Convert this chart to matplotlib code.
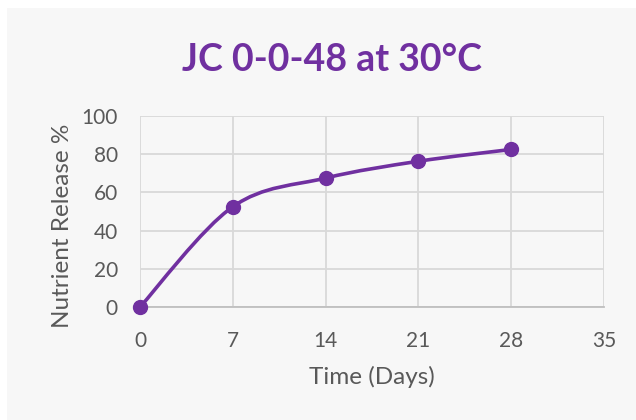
# Nutrient release curve, JC 0-0-48 at 30C
import matplotlib
matplotlib.use('Agg')
import matplotlib.pyplot as plt
from matplotlib.path import Path
from matplotlib.patches import PathPatch, Rectangle

days = [0, 7, 14, 21, 28]
release = [0, 52.5, 67.5, 76.3, 82.5]
x_ticks = [0, 7, 14, 21, 28, 35]
y_ticks = [0, 20, 40, 60, 80, 100]

purple = '#7030A0'
bg = '#f7f7f7'
txt = '#595959'

plt.rcParams['font.family'] = ['Lato', 'DejaVu Sans']

fig = plt.figure(figsize=(6.36, 4.2), dpi=100)
fig.patch.set_facecolor('white')
fig.add_artist(Rectangle((7 / 636, 0), 1, 1 - 8 / 420, transform=fig.transFigure,
                         facecolor=bg, edgecolor='none', zorder=0))

ax = fig.add_axes([140 / 636, 113 / 420, 464 / 636, 191 / 420])
ax.set_facecolor(bg)
ax.set_xlim(0, 35)
ax.set_ylim(0, 100)
ax.set_xticks(x_ticks)
ax.set_yticks(y_ticks)
ax.grid(True, color='#d9d9d9', linewidth=1.3)
ax.set_axisbelow(True)
for s in ['top', 'right', 'left']:
    ax.spines[s].set_visible(False)
ax.spines['bottom'].set_color('#bfbfbf')
ax.spines['bottom'].set_linewidth(1.3)
ax.tick_params(length=0, labelsize=15, labelcolor=txt)
ax.tick_params(axis='x', pad=17)
ax.tick_params(axis='y', pad=16)

# smoothed line (bezier through points, excel style)
pts = list(zip(days, release))
verts = [pts[0]]
codes = [Path.MOVETO]
n = len(pts)
for i in range(n - 1):
    p0 = pts[i - 1] if i > 0 else pts[i]
    p1 = pts[i]
    p2 = pts[i + 1]
    p3 = pts[i + 2] if i + 2 < n else pts[i + 1]
    c1 = (p1[0] + (p2[0] - p0[0]) / 6, p1[1] + (p2[1] - p0[1]) / 6)
    c2 = (p2[0] - (p3[0] - p1[0]) / 6, p2[1] - (p3[1] - p1[1]) / 6)
    verts += [c1, c2, p2]
    codes += [Path.CURVE4] * 3
ax.add_patch(PathPatch(Path(verts, codes), facecolor='none', edgecolor=purple,
                       linewidth=2.6, capstyle='round', clip_on=False, zorder=3))
ax.plot(days, release, linestyle='none', marker='o', markersize=10,
        color=purple, clip_on=False, zorder=4)

ax.set_xlabel('Time (Days)', fontsize=17.5, color=txt, labelpad=11)
ax.set_ylabel('Nutrient Release %', fontsize=17.5, color=txt)
ax.yaxis.set_label_coords(-0.145, 0.424)
fig.text(0.522, 0.857, 'JC 0-0-48 at 30°C', ha='center', va='center',
         fontsize=27, fontweight='bold', color=purple)

fig.savefig('out.png', dpi=100, facecolor=fig.get_facecolor())
